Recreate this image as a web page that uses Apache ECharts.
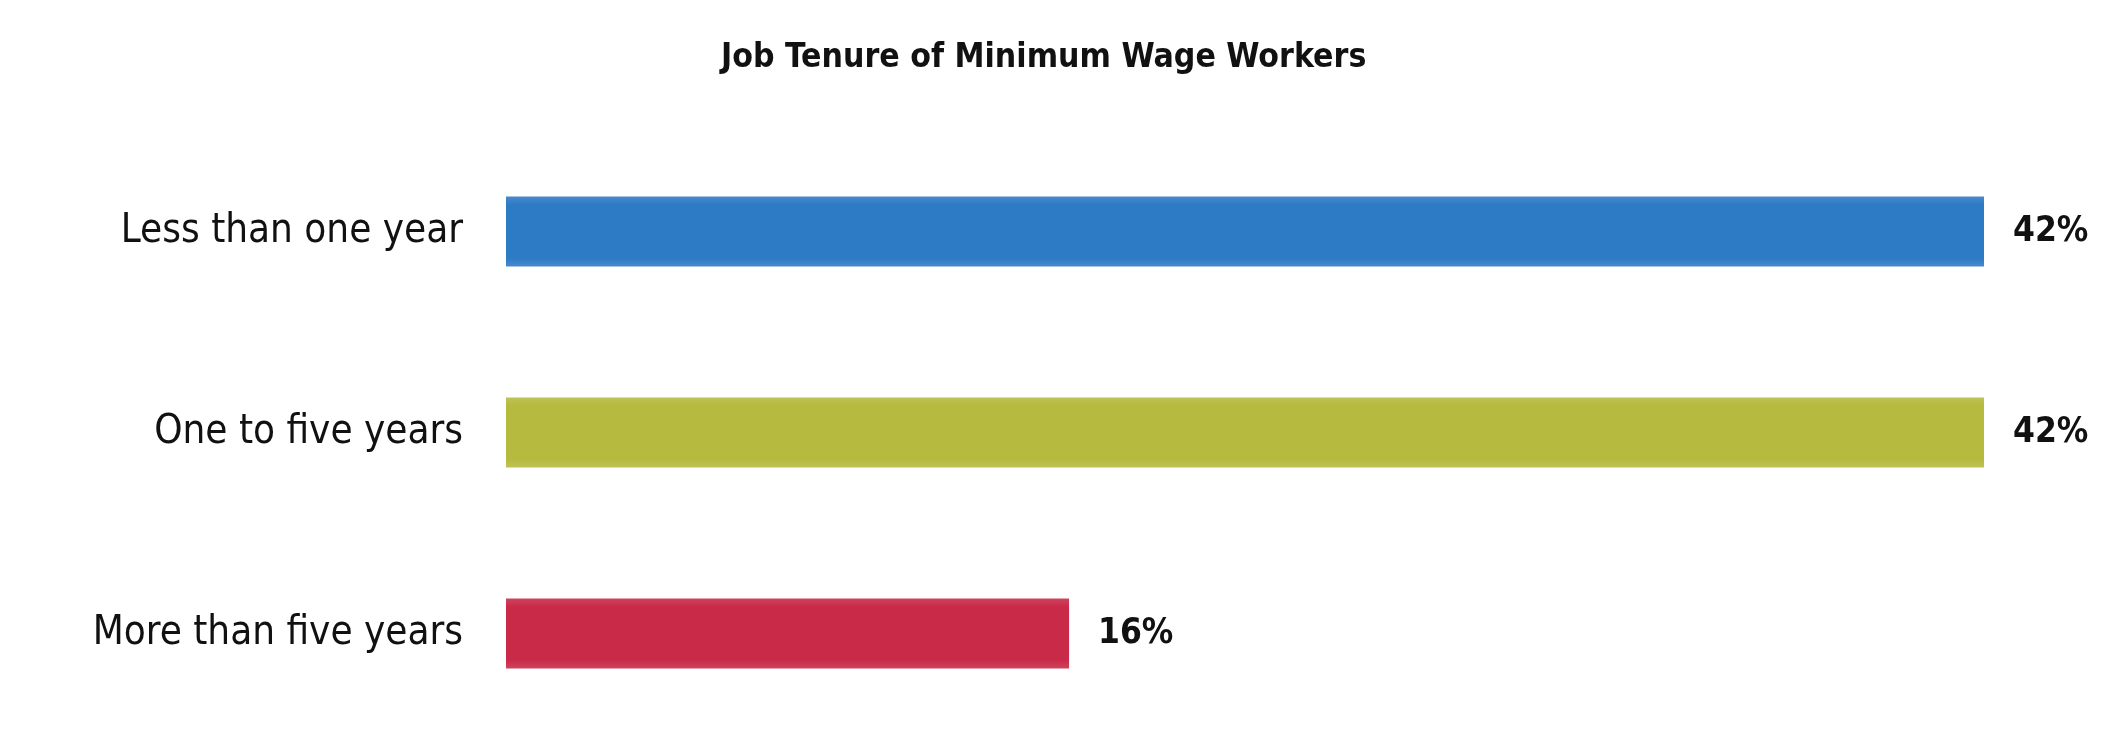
<!DOCTYPE html>
<html>
<head>
<meta charset="utf-8">
<style>
  html, body { margin: 0; padding: 0; background: #ffffff; }
  #chart { width: 2105px; height: 750px; }
</style>
<script src="https://cdn.jsdelivr.net/npm/echarts@6/dist/echarts.min.js"></script>
</head>
<body>
<div id="chart"></div>
<script>
// Share of minimum wage workers by length of time in their current job
const categories = ['Less than one year', 'One to five years', 'More than five years'];
const shares = [42, 42, 16];
const barColors = ['#2d7bc5', '#b6ba3e', '#c92a48'];

const chart = echarts.init(document.getElementById('chart'));

// Soft vertical shading on each bar: slightly darker along the edges
function shade(c) {
  const edge = echarts.color.lift(c, 0.12);
  return {
    type: 'linear', x: 0, y: 0, x2: 0, y2: 1,
    colorStops: [
      { offset: 0, color: edge },
      { offset: 0.12, color: c },
      { offset: 0.88, color: c },
      { offset: 1, color: edge }
    ]
  };
}

const fontFam = '"DejaVu Sans Condensed", "DejaVu Sans", sans-serif';

chart.setOption({
  animation: false,
  backgroundColor: '#ffffff',
  title: {
    text: 'Job Tenure of Minimum Wage Workers',
    left: 716,
    top: 36,
    textStyle: { fontFamily: fontFam, fontWeight: 'bold', fontSize: 33.5, color: '#111111' }
  },
  grid: { left: 506, right: 121, top: 131, bottom: 16, containLabel: false },
  xAxis: {
    type: 'value', min: 0, max: 42,
    show: false
  },
  yAxis: {
    type: 'category',
    data: categories,
    inverse: true,
    axisLine: { show: false },
    axisTick: { show: false },
    axisLabel: {
      margin: 43,
      fontFamily: fontFam,
      fontSize: 40,
      color: '#111111'
    }
  },
  series: [{
    type: 'bar',
    barWidth: 70,
    data: shares.map((v, i) => ({ value: v, itemStyle: { color: shade(barColors[i]) } })),
    label: {
      show: true,
      position: 'right',
      distance: 29,
      formatter: p => p.value + '%',
      fontFamily: fontFam,
      fontWeight: 'bold',
      fontSize: 35,
      color: '#111111'
    }
  }]
});
</script>
</body>
</html>
